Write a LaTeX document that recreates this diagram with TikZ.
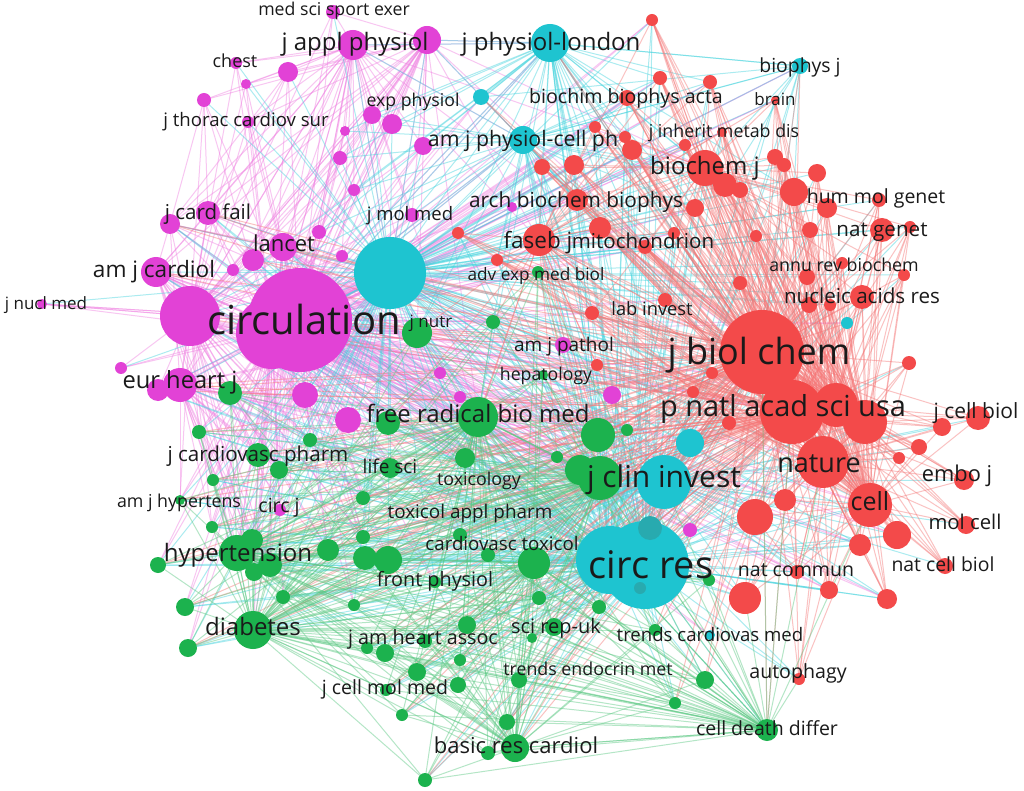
\documentclass[tikz,border=0pt]{standalone}
\usepackage{fontspec}
\setmainfont{Open Sans}
\pgfdeclarelayer{back}
\pgfdeclarelayer{bg}
\pgfsetlayers{back,bg,main}
\definecolor{colM}{RGB}{226,66,214}
\definecolor{colC}{RGB}{30,196,208}
\definecolor{colCd}{RGB}{40,170,175}
\definecolor{colR}{RGB}{243,74,74}
\definecolor{colG}{RGB}{28,178,78}
\definecolor{peC}{RGB}{240,130,226}
\definecolor{ceC}{RGB}{70,212,222}
\definecolor{reC}{RGB}{245,120,120}
\definecolor{geC}{RGB}{90,200,130}
\definecolor{txt}{RGB}{26,26,26}
\tikzset{
  dot/.style={circle,inner sep=0pt,outer sep=0pt,draw=none},
  lbl/.style={text=txt,inner sep=0pt,anchor=base},
  pe/.style={draw=peC,line width=1pt,opacity=.45},
  ce/.style={draw=ceC,line width=1pt,opacity=.45},
  re/.style={draw=reC,line width=1pt,opacity=.45},
  ge/.style={draw=geC,line width=1pt,opacity=.45}
}
\begin{document}
\begin{tikzpicture}[x=1pt,y=-1pt]
\useasboundingbox (0,0) rectangle (1024,791);
\begin{pgfonlayer}{back}\fill[white] (0,0) rectangle (1024,791);\end{pgfonlayer}
% magenta nodes
\foreach \n/\x/\y/\r in {1/300/320/52,2/272/333/36,3/190/316/30,4/156/272/15,5/180/385/17,6/158/390/11,7/283/247/14,8/253/260/11,9/170/224/10,10/208/213/12,11/233/270/6,12/353/45/15,13/427/40/14,14/236/63/6,15/288/72/10,16/246/84/5,17/204/100/7,18/248/122/6,19/372/115/9,20/392/124/10,21/423/146/9,22/345/131/5,23/340/158/7,24/354/190/6,25/319/232/7,26/342/256/6,27/412/215/7,28/333/12/7,29/42/304/5,30/121/368/6,31/305/395/13,32/348/420/13,33/440/373/6,34/460/397/6,35/612/395/9,36/563/345/8,37/690/530/7,38/280/510/6,39/512/207/5}
  \node[dot,fill=colM,minimum size=\r*2pt] (m\n) at (\x,\y) {};
% cyan nodes
\foreach \n/\x/\y/\r in {1/390/273/36,2/645/565/44,3/610/560/34,5/664/482/27,6/690/443/14,7/550/43/19,8/523/140/14,9/481/97/8,10/800/66/8,11/847/323/6,12/829/395/7,13/710/635/5}
  \node[dot,fill=colC,minimum size=\r*2pt] (c\n) at (\x,\y) {};
\node[dot,fill=colCd,minimum size=24pt] (c4) at (650,528) {};
\node[dot,fill=colCd,minimum size=12pt] (c14) at (640,588) {};
% red nodes
\foreach \n/\x/\y/\r in {1/762/352/42,2/792/412/32,3/865/422/22,4/823/462/26,5/870/505/22,6/755/517/18,7/745/598/16,8/785/500/11,9/897/535/14,10/860/545/11,11/829/590/9,12/887/599/10,13/945/566/8,14/966/525/9,15/964/480/10,16/919/447/8,17/899/458/6,18/978/418/12,19/942/427/9,20/909/363/7,21/705/168/18,22/725/185/12,23/740/190/8,24/775/157/8,25/784/165/7,26/794/192/14,27/817/173/9,28/827/208/10,29/879/200/7,30/882/230/12,31/910/227/6,32/810/230/8,33/756/236/6,34/807/277/8,35/842/263/6,36/862/297/12,37/809/305/8,38/830/305/6,39/904/275/6,40/740/283/7,41/539/240/16,42/600/228/11,43/645/247/7,44/577/200/11,45/695/208/9,46/674/233/6,47/542/167/8,48/574/165/10,49/632/150/10,50/625/137/6,51/685/145/6,52/660/78/7,53/710/82/7,54/652/20/6,55/595/127/6,56/627/98/8,57/722/132/5,58/775/100/4,59/592/313/7,60/665/300/7,61/597/365/6,62/712/373/6,63/693/392/6,64/497/260/6,65/458/233/6,66/797/572/7,67/799/679/6,68/836/405/22,69/729/423/7}
  \node[dot,fill=colR,minimum size=\r*2pt] (r\n) at (\x,\y) {};
% green nodes
\foreach \n/\x/\y/\r in {1/478/417/20,2/388/423/12,3/417/333/15,4/493/322/7,5/465/458/10,6/598/435/17,7/600/478/22,8/580/470/15,9/557/457/6,10/627/430/6,11/390/468/10,12/363/498/7,13/363/537/7,14/328/550/11,15/237/553/18,16/252/540/11,17/270/565/12,18/254/572/9,19/258/455/12,20/279/470/9,21/199/432/7,22/310/440/7,23/213/480/6,24/180/500/5,25/212/527/6,26/158/565/8,27/185/607/9,28/188/648/9,29/253/630/19,30/283/597/7,31/354/605/6,32/365/558/12,33/388/560/14,34/460/535/7,35/488/555/7,36/435/582/6,37/534/563/16,38/539/598/7,39/599/607/7,40/554/627/9,41/532/638/5,42/425/641/7,43/385/653/9,44/367/648/6,45/467/625/9,46/417/672/9,47/458/685/8,48/386/690/6,49/402/715/6,50/460/660/6,51/515/748/14,52/507/722/8,53/488/753/7,54/425/780/7,55/519/680/8,56/705/680/9,57/675/703/6,58/767/730/11,59/655/630/6,60/230/393/12,61/538/272/6,62/543/375/5,63/709/580/6}
  \node[dot,fill=colG,minimum size=\r*2pt] (g\n) at (\x,\y) {};
% edges
\begin{pgfonlayer}{bg}
% pink
\foreach \a in {1,2,3}{\foreach \i in {4,...,39}{\draw[pe] (m\a.center)--(m\i.center);}}
\foreach \a in {1,2}{\foreach \i in {1,...,36}{\draw[pe] (m\a.center)--(g\i.center);}}
\foreach \a in {1,2}{\foreach \i in {60,61,62}{\draw[pe] (m\a.center)--(g\i.center);}}
\foreach \a in {1,2}{\foreach \i in {1,...,14}{\draw[pe] (m\a.center)--(c\i.center);}}
\foreach \a in {1,2}{\foreach \i in {1,...,12}{\draw[pe] (m\a.center)--(r\i.center);}}
\foreach \a in {1,2}{\foreach \i in {41,...,66}{\draw[pe] (m\a.center)--(r\i.center);}}
\foreach \a in {3,5}{\foreach \i in {1,...,25}{\draw[pe] (m\a.center)--(g\i.center);}}
\foreach \a in {4,7}{\foreach \i in {1,...,20}{\draw[pe] (m\a.center)--(g\i.center);}}
\foreach \a in {12,13}{\foreach \b in {m1,m2,m3,m4,m5,m7,m8,m9,m10,m14,m15,m16,m17,m18,m19,m20,m21,m22,m23,m24,m25,m26,m27,m28,c1,c7,c8,r21,r41,r1,g1,g3}{\draw[pe] (m\a.center)--(\b.center);}}
\foreach \a in {9,10}{\foreach \b in {m4,m7,m8,m11,m17,m15,c1,m5}{\draw[pe] (m\a.center)--(\b.center);}}
% cyan
\foreach \i in {1,...,39}{\draw[ce] (c1.center)--(m\i.center);}
\foreach \i in {1,...,40}{\draw[ce] (c1.center)--(g\i.center);}
\foreach \i in {1,...,12}{\draw[ce] (c1.center)--(r\i.center);}
\foreach \i in {21,...,69}{\draw[ce] (c1.center)--(r\i.center);}
\foreach \a in {2,3}{\foreach \i in {1,...,63}{\draw[ce] (c\a.center)--(g\i.center);}}
\foreach \a in {2,3}{\foreach \i in {1,...,12}{\draw[ce] (c\a.center)--(r\i.center);}}
\foreach \a in {2,3}{\foreach \i in {41,...,69}{\draw[ce] (c\a.center)--(r\i.center);}}
\foreach \a in {2,3}{\foreach \i in {1,...,10}{\draw[ce] (c\a.center)--(m\i.center);}}
\foreach \i in {1,...,40}{\draw[ce] (c5.center)--(r\i.center);}
\foreach \i in {1,...,40}{\draw[ce] (c5.center)--(g\i.center);}
\foreach \a in {7,8}{\foreach \b in {m1,m2,m3,m12,m13,m19,m20,m21,m22,m23,m24,m25,m27,c1,c2,c3,c5,c6,c9,c10,r1,r2,r4,r21,r22,r26,r41,r42,r44,r45,r47,r48,r49,r50,r52,r53,r55,r56,r59,r60,r64,g1,g6,g7,g3}{\draw[ce] (c\a.center)--(\b.center);}}
\foreach \b in {c7,c8,c9,r21,r26,r1,r58,c1,r24,r22,c2}{\draw[ce] (c10.center)--(\b.center);}
% red
\foreach \a in {1,2,68,4}{\foreach \i in {1,...,69}{\draw[re] (r\a.center)--(r\i.center);}}
\foreach \a in {1,2}{\foreach \i in {1,...,63}{\draw[re] (r\a.center)--(g\i.center);}}
\foreach \a in {1,2}{\foreach \i in {1,...,14}{\draw[re] (r\a.center)--(c\i.center);}}
\foreach \a in {1,2}{\foreach \i in {1,...,10}{\draw[re] (r\a.center)--(m\i.center);}}
\foreach \a in {3,5}{\foreach \i in {1,...,69}{\draw[re] (r\a.center)--(r\i.center);}}
\foreach \i in {22,...,60}{\draw[re] (r21.center)--(r\i.center);}
\foreach \i in {42,...,66}{\draw[re] (r41.center)--(r\i.center);}
\foreach \i in {1,...,10}{\draw[re] (r41.center)--(g\i.center);}
% green
\foreach \a in {1,7,29,15}{\foreach \i in {1,...,63}{\draw[ge] (g\a.center)--(g\i.center);}}
\foreach \a in {37,51,58}{\foreach \i in {30,...,63}{\draw[ge] (g\a.center)--(g\i.center);}}
\foreach \b in {c2,c3,r1,r4,r5,r7,r67,r2,c5,g7}{\draw[ge] (g58.center)--(\b.center);}
\draw[pe] (m29.center)--(m3.center);
\draw[pe] (m29.center)--(m1.center);
\end{pgfonlayer}
% labels
\foreach \n/\x/\y/\s/\t in {1/304/324/40/circulation,2/759/355/36/j biol chem,3/783/409/29/p natl acad sci usa,4/651/568/38/circ res,5/664/479/30/j clin invest,6/819/465/27/nature,7/870/504/25/cell,8/478/416/24/free radical bio med,9/238/555/24/hypertension,10/253/629/24/diabetes,11/516/748/22/basic res cardiol,12/767/730/19.5/cell death differ,13/355/44/24/j appl physiol,14/551/44/24/j physiol-london,15/334/11/17.7/med sci sport exer,16/235/63/18/chest,17/246/121/18.6/j thorac cardiov sur,18/413/102/17.7/exp physiol,19/523/141/21.3/am j physiol-cell ph,20/626/98/19.6/biochim biophys acta,21/800/67/19.4/biophys j,22/775/101/17/brain,23/724/133/17.8/j inherit metab dis,24/705/168/24/biochem j,25/876/198/19.5/hum mol genet,26/882/231/20.6/nat genet,27/844/267/17.8/annu rev biochem,28/862/298/20.6/nucleic acids res,29/652/311/18.3/lab invest,30/564/346/19/am j pathol,31/546/376/17.7/hepatology,32/536/276/17.2/adv exp med biol,33/576/202/20.8/arch biochem biophys,34/538/242/22.5/faseb j,35/643/243/20.5/mitochondrion,36/410/216/18.5/j mol med,37/208/214/20.5/j card fail,38/284/246/22/lancet,39/154/271/22.6/am j cardiol,40/46/305/17/j nucl med,41/180/382/23.7/eur heart j,42/431/323/17/j nutr,43/976/413/21/j cell biol,44/957/476/21.8/embo j,45/965/524/20.3/mol cell,46/943/566/19.4/nat cell biol,47/796/571/19.5/nat commun,48/710/636/18.6/trends cardiovas med,49/798/673/19.6/autophagy,50/588/671/17.8/trends endocrin met,51/556/628/20/sci rep-uk,52/423/639/19.7/j am heart assoc,53/385/689/19.5/j cell mol med,54/435/581/19.8/front physiol,55/502/545/18.7/cardiovasc toxicol,56/470/513/18.9/toxicol appl pharm,57/479/481/17.8/toxicology,58/390/468/19/life sci,59/258/456/20.6/j cardiovasc pharm,60/179/503/17.8/am j hypertens,61/279/507/19.5/circ j}
  \node[lbl,font=\fontsize{\s}{\s}\selectfont] (l\n) at (\x,{\y+0.27*\s}) {\t};
\end{tikzpicture}
\end{document}
